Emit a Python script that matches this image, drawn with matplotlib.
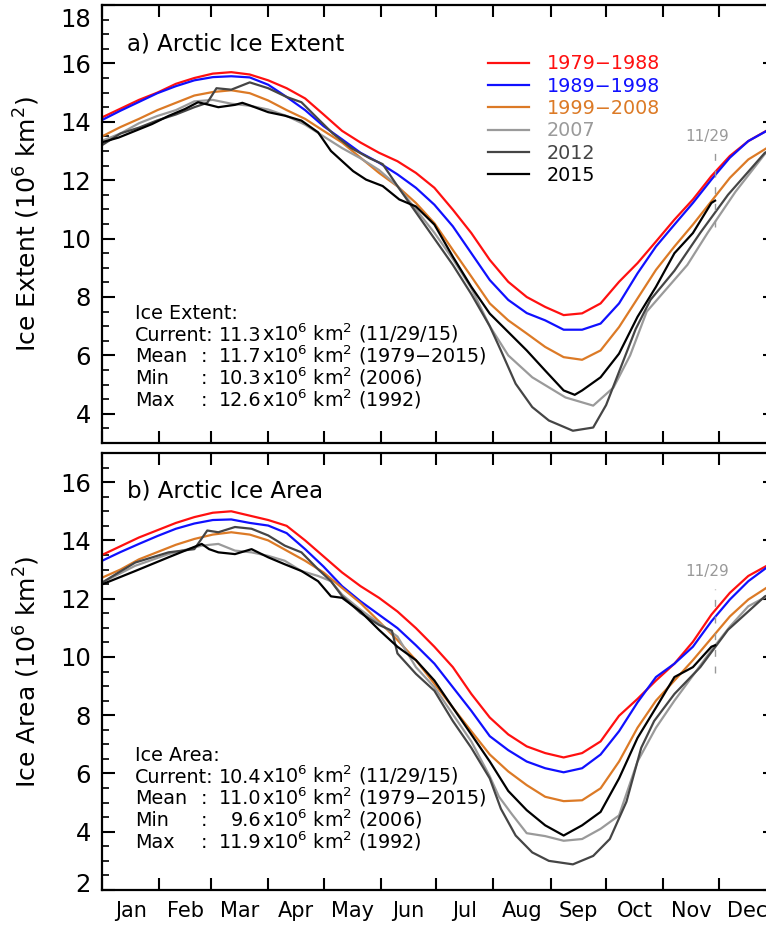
import numpy as np
import matplotlib
matplotlib.use('Agg')
import matplotlib.pyplot as plt
import matplotlib.transforms as mtransforms
from matplotlib.lines import Line2D

plt.rcParams['font.family'] = ['DejaVu Sans']
plt.rcParams['mathtext.fontset'] = 'dejavusans'

########################################################
# data (day of year, 0 = Jan 1), values in 10^6 km^2
days = [0, 10, 20, 30, 40, 50, 60, 70, 80, 90, 100, 110, 120, 130, 140, 150, 160, 170, 180,
        190, 200, 210, 220, 230, 240, 250, 260, 270, 280, 290, 300, 310, 320, 330, 340, 350, 360, 364]

ext_7988 = [14.15, 14.45, 14.75, 15.0, 15.3, 15.5, 15.65, 15.7, 15.62, 15.42, 15.15, 14.8, 14.25, 13.69,
            13.29, 12.94, 12.65, 12.25, 11.74, 10.99, 10.19, 9.27, 8.52, 8.0, 7.66, 7.38, 7.44, 7.78, 8.52,
            9.16, 9.9, 10.65, 11.34, 12.14, 12.83, 13.34, 13.7, 13.78]
ext_8998 = [14.06, 14.38, 14.68, 14.98, 15.22, 15.42, 15.53, 15.56, 15.52, 15.27, 14.85, 14.4, 13.85, 13.4,
            12.94, 12.6, 12.2, 11.74, 11.16, 10.42, 9.5, 8.58, 7.9, 7.45, 7.2, 6.88, 6.88, 7.09, 7.78,
            8.81, 9.73, 10.48, 11.22, 12.02, 12.77, 13.34, 13.69, 13.78]
ext_9908 = [13.5, 13.82, 14.1, 14.4, 14.65, 14.9, 15.02, 15.08, 14.98, 14.73, 14.4, 14.1, 13.69, 13.29,
            12.77, 12.25, 11.79, 11.22, 10.53, 9.61, 8.7, 7.78, 7.2, 6.75, 6.29, 5.94, 5.85, 6.17, 6.97,
            7.95, 8.93, 9.73, 10.48, 11.28, 12.08, 12.71, 13.1, 13.17]

ext_2007_days = [0, 10, 20, 30, 40, 50, 60, 70, 80, 90, 100, 110, 120, 130, 140, 150, 160, 170, 180, 190,
                 200, 210, 220, 233, 251, 266, 277, 286, 295, 306, 317, 328, 343, 359, 364]
ext_2007 = [13.35, 13.6, 13.95, 14.2, 14.4, 14.7, 14.75, 14.62, 14.55, 14.42, 14.2, 13.9, 13.5, 13.1,
            12.75, 12.35, 11.8, 11.0, 10.2, 9.3, 8.3, 7.0, 6.0, 5.25, 4.56, 4.28, 4.9, 6.0, 7.5, 8.3,
            9.1, 10.2, 11.6, 12.9, 13.05]
ext_2012_days = [0, 10, 20, 30, 40, 50, 57, 62, 70, 80, 90, 100, 108, 117, 125, 135, 145, 152, 160, 170,
                 180, 190, 200, 210, 216, 224, 233, 242, 255, 266, 273, 281, 289, 297, 310, 324, 339,
                 359, 364]
ext_2012 = [13.2, 13.6, 13.8, 14.05, 14.25, 14.5, 14.65, 15.15, 15.1, 15.35, 15.15, 14.85, 14.67, 14.1,
            13.6, 13.1, 12.75, 12.55, 11.8, 10.9, 10.0, 9.1, 8.1, 7.0, 6.17, 5.03, 4.23, 3.77, 3.42,
            3.53, 4.3, 5.6, 6.9, 7.9, 8.9, 10.2, 11.5, 12.94, 13.1]
ext_2015_days = [0, 9, 18, 27, 36, 45, 52, 58, 63, 72, 76, 81, 90, 99, 108, 117, 124, 136, 143, 152, 161,
                 170, 180, 190, 200, 210, 220, 230, 240, 250, 256, 260, 270, 280, 290, 300, 310, 320,
                 330, 332]
ext_2015 = [13.3, 13.46, 13.69, 13.92, 14.2, 14.44, 14.67, 14.58, 14.5, 14.58, 14.65, 14.54, 14.33,
            14.21, 14.04, 13.64, 13.0, 12.31, 12.02, 11.8, 11.34, 11.1, 10.48, 9.38, 8.35, 7.43, 6.8,
            6.17, 5.48, 4.8, 4.65, 4.8, 5.25, 6.06, 7.32, 8.35, 9.5, 10.19, 11.22, 11.3]

area_7988 = [13.5, 13.8, 14.1, 14.35, 14.6, 14.8, 14.95, 15.0, 14.85, 14.7, 14.5, 14.0, 13.45, 12.9,
             12.43, 12.03, 11.56, 10.99, 10.35, 9.65, 8.73, 7.92, 7.34, 6.93, 6.7, 6.55, 6.7, 7.1, 7.98,
             8.56, 9.19, 9.77, 10.52, 11.45, 12.2, 12.78, 13.13, 13.2]
area_8998 = [13.3, 13.6, 13.88, 14.15, 14.4, 14.58, 14.7, 14.72, 14.6, 14.51, 14.25, 13.7, 13.1, 12.43,
             11.91, 11.45, 10.99, 10.4, 9.77, 8.96, 8.15, 7.28, 6.8, 6.41, 6.18, 6.04, 6.18, 6.65, 7.45,
             8.44, 9.31, 9.77, 10.35, 11.22, 11.97, 12.6, 13.07, 13.15]
area_9908 = [12.72, 13.0, 13.35, 13.6, 13.85, 14.05, 14.2, 14.28, 14.2, 14.0, 13.65, 13.3, 12.9, 12.37,
             11.85, 11.22, 10.58, 9.89, 9.08, 8.26, 7.45, 6.65, 6.07, 5.6, 5.2, 5.05, 5.08, 5.49, 6.41,
             7.57, 8.5, 9.19, 9.89, 10.64, 11.39, 11.97, 12.38, 12.5]

area_2007_days = [0, 18, 36, 54, 63, 72, 81, 90, 99, 108, 117, 124, 130, 140, 150, 160, 170, 180, 190,
                  200, 210, 215, 222, 230, 240, 250, 260, 270, 280, 290, 300, 310, 320, 330, 340, 350,
                  360, 364]
area_2007 = [12.55, 13.13, 13.53, 13.82, 13.88, 13.65, 13.59, 13.47, 13.3, 12.95, 12.78, 12.6, 12.14,
             11.62, 11.16, 10.7, 9.65, 8.96, 8.03, 7.1, 5.9, 5.2, 4.6, 3.95, 3.85, 3.69, 3.75, 4.1, 4.56,
             6.41, 7.57, 8.5, 9.36, 10.23, 11.04, 11.74, 12.08, 12.2]
area_2012_days = [0, 9, 18, 36, 50, 57, 63, 72, 81, 90, 99, 108, 117, 124, 130, 140, 150, 157, 160, 170,
                  180, 190, 200, 210, 216, 224, 233, 242, 255, 266, 275, 284, 292, 299, 310, 324, 339,
                  359, 364]
area_2012 = [12.55, 12.9, 13.24, 13.59, 13.7, 14.34, 14.28, 14.46, 14.4, 14.17, 13.82, 13.59, 13.01,
             12.6, 12.09, 11.51, 11.1, 10.9, 10.12, 9.42, 8.84, 7.8, 6.88, 5.83, 4.79, 3.87, 3.29, 3.0,
             2.88, 3.17, 3.75, 5.03, 6.88, 7.8, 8.73, 9.65, 10.93, 12.08, 12.2]
area_2015_days = [0, 18, 36, 54, 58, 63, 72, 81, 90, 99, 108, 117, 124, 130, 140, 150, 160, 170, 180,
                  190, 200, 210, 220, 230, 240, 250, 260, 270, 280, 290, 300, 310, 320, 330, 332]
area_2015 = [12.49, 12.95, 13.42, 13.88, 13.7, 13.59, 13.53, 13.7, 13.42, 13.18, 12.95, 12.6, 12.08,
             12.03, 11.56, 10.93, 10.35, 9.89, 9.19, 8.26, 7.34, 6.41, 5.4, 4.74, 4.22, 3.87, 4.22, 4.68,
             5.83, 7.22, 8.26, 9.31, 9.65, 10.35, 10.4]

month_starts = [0, 31, 59, 90, 120, 151, 181, 212, 243, 273, 304, 334]
month_mids = [15.5, 45, 74.5, 105, 135.5, 166, 196.5, 227.5, 258, 288.5, 319, 349.5]
month_names = ['Jan', 'Feb', 'Mar', 'Apr', 'May', 'Jun', 'Jul', 'Aug', 'Sep', 'Oct', 'Nov', 'Dec']

legend_labels = ['1979\u22121988', '1989\u22121998', '1999\u22122008', '2007', '2012', '2015']
colors = ['#ff1010', '#1010ff', '#dc7a26', '#9a9a9a', '#454545', '#000000']

ext_stats = [('Current:', '11.3', '(11/29/15)'), ('Mean', '11.7', '(1979\u22122015)'),
             ('Min', '10.3', '(2006)'), ('Max', '12.6', '(1992)')]
area_stats = [('Current:', '10.4', '(11/29/15)'), ('Mean', '11.0', '(1979\u22122015)'),
              ('Min', '9.6', '(2006)'), ('Max', '11.9', '(1992)')]
current_day = 332

########################################################
fig = plt.figure(figsize=(7.66, 9.26), dpi=100)
ax1 = fig.add_axes([0.13316, 0.5216, 0.8799, 0.4730])
ax2 = fig.add_axes([0.13316, 0.03888, 0.8799, 0.4719])


def style_axis(ax, ylo, yhi, ylabel, show_months):
    ax.set_xlim(0, 365)
    ax.set_ylim(ylo, yhi)
    for sp in ax.spines.values():
        sp.set_linewidth(1.6)
    ax.set_xticks(month_starts)
    ax.set_xticklabels([])
    ax.tick_params(axis='x', which='major', direction='in', top=True, bottom=True,
                   length=8.5, width=1.5, labelbottom=False)
    if show_months:
        ax.set_xticks(month_mids, minor=True)
        ax.set_xticklabels(month_names, minor=True, fontsize=15)
        ax.tick_params(axis='x', which='minor', length=0, pad=8, labelbottom=True)
    ax.set_yticks(np.arange(ylo + (ylo % 2), yhi + 0.1, 2))
    ax.set_yticks(np.arange(ylo, yhi + 0.01, 0.5), minor=True)
    ax.tick_params(axis='y', which='major', direction='in', left=True, right=True,
                   length=9.5, width=1.5, labelsize=17.5, pad=8)
    ax.tick_params(axis='y', which='minor', direction='in', left=True, right=True,
                   length=5, width=1.2)
    ax.set_ylabel(ylabel, fontsize=18)
    ax.yaxis.set_label_coords(-0.111, 0.5)
    ax.yaxis.label.set_va('center')


style_axis(ax1, 3, 18, 'Ice Extent (10$^6$ km$^2$)', False)
style_axis(ax2, 2, 17, 'Ice Area (10$^6$ km$^2$)', True)

# IDL-style: top label of panel a and bottom label of panel b pulled inside
lab_top = [t for t in ax1.get_yticklabels()][-1]
lab_top.set_transform(lab_top.get_transform() + mtransforms.ScaledTranslation(0, -12 / 100, fig.dpi_scale_trans))
lab_bot = [t for t in ax2.get_yticklabels()][0]
lab_bot.set_transform(lab_bot.get_transform() + mtransforms.ScaledTranslation(0, 7 / 100, fig.dpi_scale_trans))

# curves
for ax, means, yrs in [
        (ax1, [ext_7988, ext_8998, ext_9908],
         [(ext_2007_days, ext_2007), (ext_2012_days, ext_2012), (ext_2015_days, ext_2015)]),
        (ax2, [area_7988, area_8998, area_9908],
         [(area_2007_days, area_2007), (area_2012_days, area_2012), (area_2015_days, area_2015)])]:
    for vals, c in zip(means, colors[:3]):
        ax.plot(days, vals, color=c, lw=1.6)
    for (d, vals), c in zip(yrs, colors[3:]):
        ax.plot(d, vals, color=c, lw=1.6)

# panel titles
ax1.text(0.037, 0.912, 'a) Arctic Ice Extent', transform=ax1.transAxes, fontsize=16.5, va='center')
ax2.text(0.037, 0.912, 'b) Arctic Ice Area', transform=ax2.transAxes, fontsize=16.5, va='center')

# legend
handles = [Line2D([], [], color=c, lw=1.6) for c in colors]
ax1.legend(handles, legend_labels, loc='upper left', bbox_to_anchor=(0.5727, 0.887),
           frameon=False, fontsize=13.8, handlelength=2.15, handletextpad=0.9,
           labelspacing=0.17, borderpad=0, borderaxespad=0, labelcolor=colors)


# stats text blocks
def stats_block(ax, title, rows, y0):
    x_lab, x_col, x_num = 17.9, 53.5, 86.5
    step = 0.75
    ax.text(x_lab, y0, title, fontsize=13.8, va='baseline')
    for i, (lab, num, tail) in enumerate(rows):
        y = y0 - step * (i + 1)
        ax.text(x_lab, y, lab, fontsize=13.8, va='baseline')
        if lab != 'Current:':
            ax.text(x_col, y, ':', fontsize=13.8, va='baseline')
        ax.text(x_num, y, num, fontsize=13.8, va='baseline', ha='right')
        ax.text(x_num, y, 'x10$^6$ km$^2$ ' + tail, fontsize=13.8, va='baseline')


stats_block(ax1, 'Ice Extent:', ext_stats, 7.26)
stats_block(ax2, 'Ice Area:', area_stats, 6.44)

# current date marker
for ax, lo, hi, ty in [(ax1, 10.39, 12.99, 13.51), (ax2, 9.45, 12.32, 12.93)]:
    ax.vlines(current_day, lo, hi, color='#999999', lw=1.0, linestyles=(0, (5, 7)))
    ax.text(current_day - 4, ty, '11/29', color='#999999', fontsize=11, ha='center', va='center')

fig.savefig('out.png', dpi=100)
